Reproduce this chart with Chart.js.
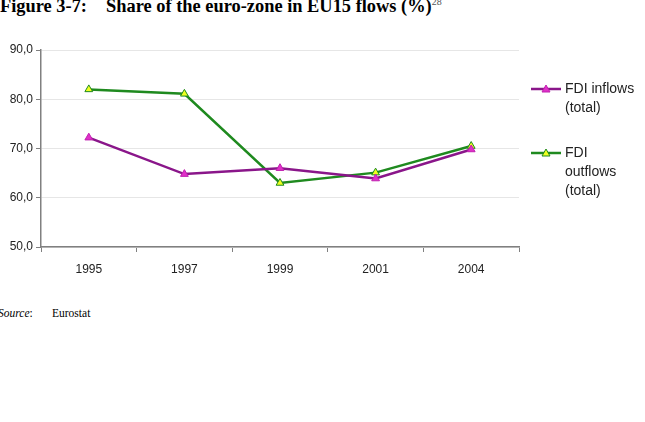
<!DOCTYPE html>
<html>
<head>
<meta charset="utf-8">
<script src="https://cdn.jsdelivr.net/npm/chart.js@4"></script>
<style>
  body { margin: 0; background: #fff; width: 645px; height: 422px; position: relative; overflow: hidden; }
  #title { position: absolute; left: 0; top: -4px; font: bold 18.4px "Liberation Serif", serif; color: #000; white-space: nowrap; }
  #title .num { display: inline-block; width: 106px; }
  #title sup { font-weight: normal; font-size: 10px; color: #555; }
  #source { position: absolute; left: -2px; top: 307px; font: 11.5px "Liberation Serif", serif; color: #000; white-space: nowrap; }
  #source .lab { display: inline-block; width: 54px; }
  #wrap { position: absolute; left: 0; top: 0; width: 645px; height: 287px; }
</style>
</head>
<body>
<div id="title"><span class="num">Figure 3-7:</span>Share of the euro-zone in EU15 flows (%)<sup>28</sup></div>
<div id="wrap"><canvas id="c"></canvas></div>
<div id="source"><span class="lab"><i>Source</i>:</span>Eurostat</div>
<script>
const years = ['1995', '1997', '1999', '2001', '2004'];
const inflows = [72.2, 64.8, 66.0, 63.9, 69.8];
const outflows = [82.0, 81.1, 63.0, 65.1, 70.5];
const legendInflows = ['FDI inflows', '(total)'];
const legendOutflows = ['FDI', 'outflows', '(total)'];

const sideLegend = {
  id: 'sideLegend',
  afterDraw(chart) {
    const ctx = chart.ctx;
    const x0 = chart.chartArea.right + 12;
    let y = chart.chartArea.top + 39;
    ctx.save();
    chart.data.datasets.forEach(ds => {
      ctx.strokeStyle = ds.borderColor;
      ctx.lineWidth = 2.5;
      ctx.beginPath();
      ctx.moveTo(x0, y);
      ctx.lineTo(x0 + 30, y);
      ctx.stroke();
      const cx = x0 + 15;
      ctx.fillStyle = ds.pointBackgroundColor;
      ctx.strokeStyle = ds.pointBorderColor;
      ctx.lineWidth = 1;
      ctx.beginPath();
      ctx.moveTo(cx, y - 4);
      ctx.lineTo(cx + 4, y + 3);
      ctx.lineTo(cx - 4, y + 3);
      ctx.closePath();
      ctx.fill();
      ctx.stroke();
      ctx.fillStyle = '#222';
      ctx.font = '14px "Liberation Sans", Arial, sans-serif';
      ctx.textBaseline = 'middle';
      ds.legendLines.forEach((t, i) => ctx.fillText(t, x0 + 34, y + i * 19));
      y += ds.legendLines.length * 19 + 26;
    });
    ctx.restore();
  }
};

new Chart(document.getElementById('c'), {
  type: 'line',
  data: {
    labels: years,
    datasets: [
      {
        label: 'FDI inflows (total)',
        legendLines: legendInflows,
        data: inflows,
        borderColor: '#8a168a',
        borderWidth: 2.5,
        pointStyle: 'triangle',
        pointRadius: 4.5,
        pointBackgroundColor: '#e030c8',
        pointBorderColor: '#c020b0',
        pointBorderWidth: 1,
        tension: 0
      },
      {
        label: 'FDI outflows (total)',
        legendLines: legendOutflows,
        data: outflows,
        borderColor: '#1f8a1f',
        borderWidth: 2.5,
        pointStyle: 'triangle',
        pointRadius: 4.5,
        pointBackgroundColor: '#f0ff20',
        pointBorderColor: '#1f8a1f',
        pointBorderWidth: 1,
        tension: 0
      }
    ]
  },
  options: {
    responsive: true,
    maintainAspectRatio: false,
    animation: false,
    layout: { padding: { top: 50, right: 126, left: 0, bottom: 0 } },
    plugins: { legend: { display: false }, tooltip: { enabled: false } },
    scales: {
      x: {
        offset: true,
        grid: { offset: true, drawOnChartArea: false, tickLength: 5, color: '#808080', lineWidth: 1 },
        border: { color: '#808080', width: 1.5 },
        ticks: { color: '#222', font: { family: '"Liberation Sans", Arial, sans-serif', size: 12 }, padding: 10 },
        afterFit(scale) { scale.height = 40; }
      },
      y: {
        min: 50,
        max: 90,
        grid: { color: '#e6e6e6', tickColor: '#808080', tickLength: 5 },
        border: { color: '#808080', width: 1.5 },
        ticks: {
          stepSize: 10,
          color: '#222',
          font: { family: '"Liberation Sans", Arial, sans-serif', size: 12 },
          padding: 3,
          callback: v => v.toFixed(1).replace('.', ',')
        },
        afterFit(scale) { scale.width = 41; }
      }
    }
  },
  plugins: [sideLegend]
});
</script>
</body>
</html>
